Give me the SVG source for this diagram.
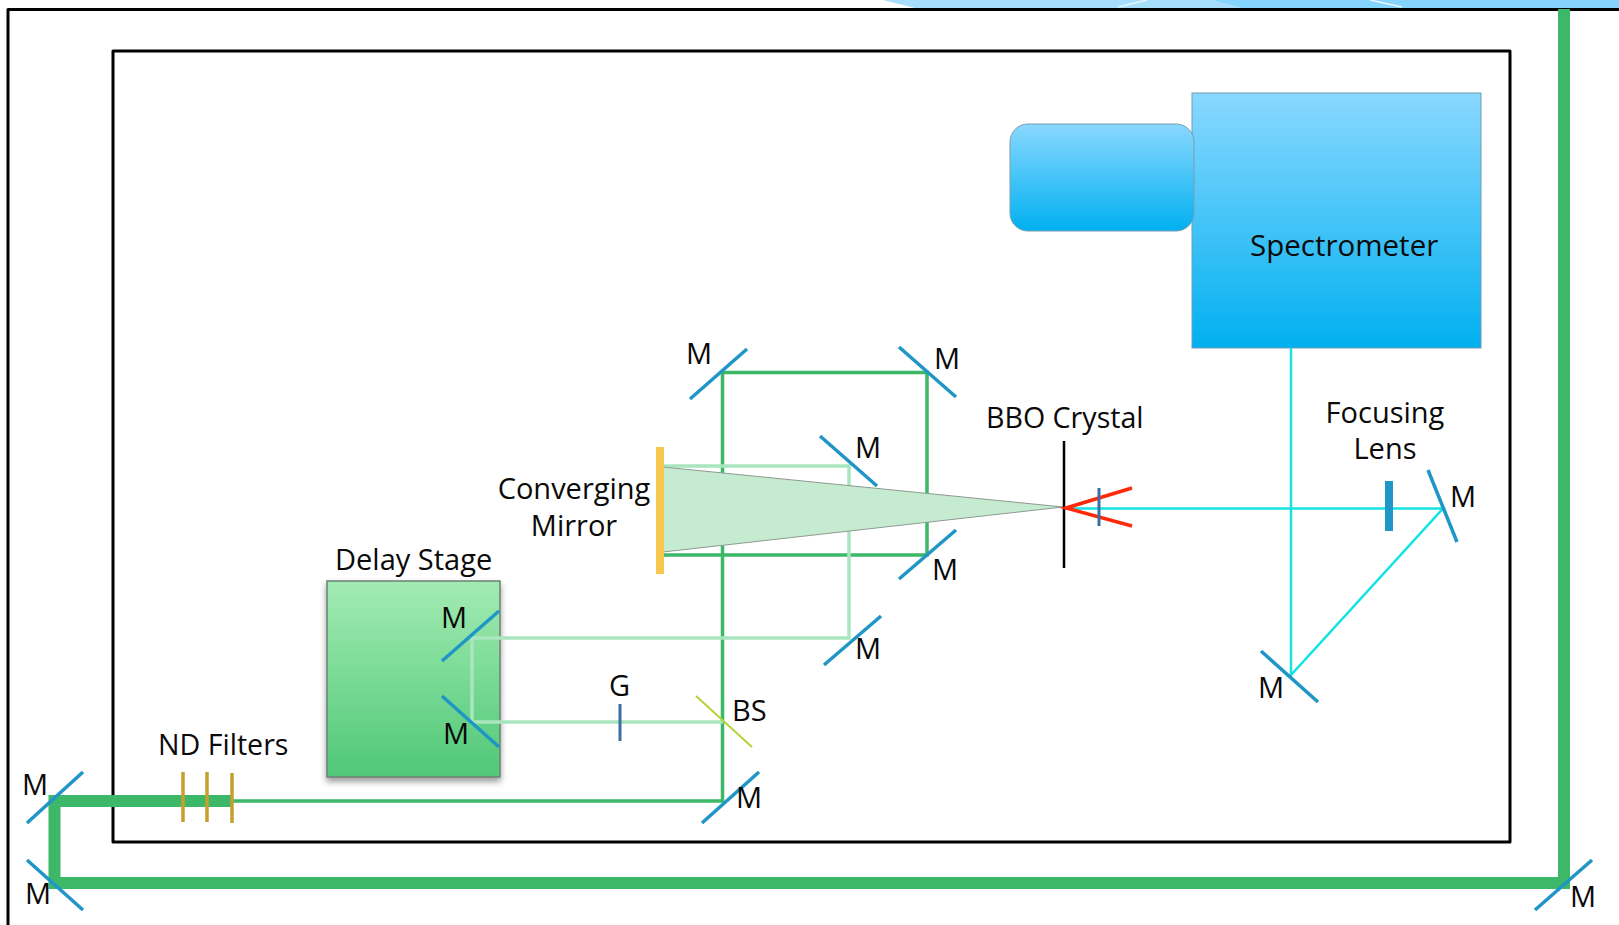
<svg xmlns="http://www.w3.org/2000/svg" width="1619" height="925" viewBox="0 0 1619 925">
<style>
text{font-family:"Open Sans","Noto Sans","DejaVu Sans",sans-serif;font-size:29px;fill:#0a0a0a}
text.m{font-size:29px}
text.nf{font-size:28.600px}
.mir{stroke:#1F96C6;stroke-width:3.5;fill:none}
.thin{stroke:#3CB868;stroke-width:3.5;fill:none}
.pale{stroke:#A9E6BE;stroke-width:3.5;fill:none}
.thick{stroke:#3CB868;stroke-width:12;fill:none}
.cy{stroke:#14E3E6;stroke-width:2.5;fill:none}
.nd{stroke:#C5A02F;stroke-width:3.5}
</style>
<defs>
<linearGradient id="blue" x1="0" y1="0" x2="0" y2="1"><stop offset="0" stop-color="#8AD8FF"/><stop offset="1" stop-color="#00B0F0"/></linearGradient>
<linearGradient id="grn" x1="0" y1="0" x2="0" y2="1"><stop offset="0" stop-color="#A2EBB2"/><stop offset="1" stop-color="#50C878"/></linearGradient>
<filter id="sh" x="-10%" y="-10%" width="120%" height="120%"><feDropShadow dx="0" dy="4" stdDeviation="3" flood-color="#000" flood-opacity=".4"/></filter>
</defs>
<rect width="1619" height="925" fill="#fff"/>
<g id="top-band">
<path d="M883 0H1619V8H915Z" fill="#A6DEFC"/>
<path d="M1213 0H1619V8H1243Z" fill="#84D4FE"/>
<path d="M1118 7 1147 0M1370 0 1402 7" stroke="#E8F7FF" stroke-width="1.500" fill="none"/>
</g>
<g id="frames" fill="none" stroke="#000" stroke-linejoin="round">
<path d="M8 925V9.500H1619" stroke-width="3"/>
<rect x="113" y="51" width="1397" height="791" stroke-width="3"/>
</g>
<g id="spectrometer">
<rect x="1192" y="93" width="289" height="255" fill="url(#blue)" stroke="#6E9DB5" stroke-width="1"/>
<text x="1250" y="256" style="font-size:29.500px">Spectrometer</text>
</g>
<g id="camera"><rect x="1010" y="124" width="184" height="107" rx="18" fill="url(#blue)" stroke="#7A9DB0" stroke-width="1"/></g>
<g id="delay-stage">
<rect x="327" y="581" width="173" height="196" fill="url(#grn)" stroke="#6E7F74" stroke-width="1.500" filter="url(#sh)"/>
<text x="335" y="570">Delay Stage</text>
</g>
<g id="connectors">
<path class="thin" d="M232 801H722.500V372.500H927V555H664"/>
<path class="pale" d="M664 466H849V638H472V722H723"/>
<path class="thick" d="M232 801H54.500V883H1564V9"/>
<path class="cy" d="M1064 508.500H1443L1291 675V348"/>
</g>
<g id="converging-mirror">
<path d="M663 467 1063 507 663 552Z" fill="#C5EBD1" stroke="#8E9A92" stroke-width="1"/>
<rect x="656" y="447" width="8" height="127" fill="#F8C74E"/>
<text text-anchor="middle" x="574" y="499">Converging</text>
<text text-anchor="middle" x="574" y="536">Mirror</text>
</g>
<g id="bbo-crystal">
<path d="M1064 441V568" stroke="#000" stroke-width="2.500"/>
<path d="M1132 488 1066 508 1132 526" stroke="#FF2A0A" stroke-width="3.500" fill="none"/>
<path d="M1099 488V526" stroke="#3A6EA5" stroke-width="3"/>
<text x="986" y="428" class="nf">BBO Crystal</text>
</g>
<g id="focusing-lens">
<rect x="1385" y="481" width="8" height="50" fill="#1F96C6"/>
<text text-anchor="middle" x="1385" y="423">Focusing</text>
<text text-anchor="middle" x="1385" y="459">Lens</text>
</g>
<g id="nd-filters">
<path class="nd" d="M183 772V822M207 772V822M232 773V823"/>
<text class="nf" x="158" y="755">ND Filters</text>
</g>
<g id="g-plate"><path d="M620 704V741" stroke="#3A6EA5" stroke-width="3"/><text x="609" y="696">G</text></g>
<g id="beam-splitter"><path d="M696 696 752 747" stroke="#B5D334" stroke-width="2"/><text x="732" y="721">BS</text></g>
<g id="m1"><path class="mir" d="M690 399 747 349"/><text class="m" x="686" y="364">M</text></g>
<g id="m2"><path class="mir" d="M899 347 956 397"/><text class="m" x="934" y="369">M</text></g>
<g id="m3"><path class="mir" d="M899 579 956 530"/><text class="m" x="932" y="580">M</text></g>
<g id="m4"><path class="mir" d="M820 436 877 486"/><text class="m" x="855" y="458">M</text></g>
<g id="m5"><path class="mir" d="M824 665 881 616"/><text class="m" x="855" y="659">M</text></g>
<g id="m6"><path class="mir" d="M442 661 499 611"/><text class="m" x="441" y="628">M</text></g>
<g id="m7"><path class="mir" d="M442 696 499 747"/><text class="m" x="443" y="744">M</text></g>
<g id="m8"><path class="mir" d="M702 823 759 772"/><text class="m" x="736" y="808">M</text></g>
<g id="m9"><path class="mir" d="M27 823 83 772"/><text class="m" x="22" y="795">M</text></g>
<g id="m10"><path class="mir" d="M27 860 83 910"/><text class="m" x="25" y="904">M</text></g>
<g id="m11"><path class="mir" d="M1535 910 1592 860"/><text class="m" x="1570" y="907">M</text></g>
<g id="m12"><path class="mir" d="M1428 470 1457 542"/><text class="m" x="1450" y="507">M</text></g>
<g id="m13"><path class="mir" d="M1261 651 1318 702"/><text class="m" x="1258" y="698">M</text></g>
</svg>
